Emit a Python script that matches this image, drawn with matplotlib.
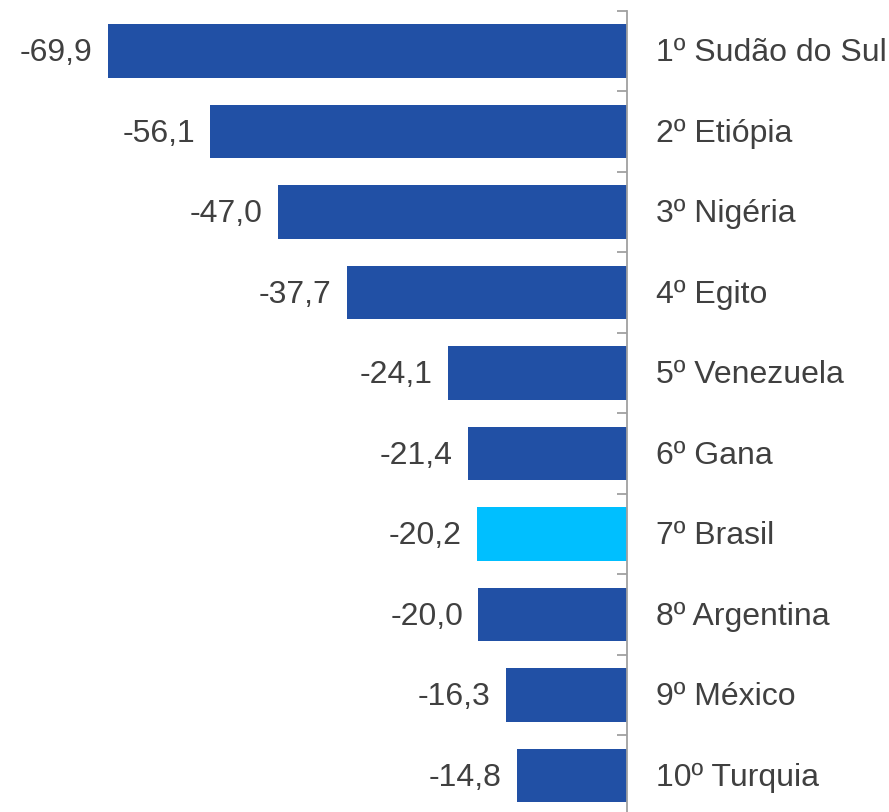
import matplotlib.pyplot as plt
import numpy as np

plt.rcParams['font.family'] = ['Liberation Sans', 'DejaVu Sans']

countries = ['1º Sudão do Sul', '2º Etiópia', '3º Nigéria', '4º Egito', '5º Venezuela',
             '6º Gana', '7º Brasil', '8º Argentina', '9º México', '10º Turquia']
values = [-69.9, -56.1, -47.0, -37.7, -24.1, -21.4, -20.2, -20.0, -16.3, -14.8]
highlight = '7º Brasil'

dark_blue = '#2150A5'
light_blue = '#00BFFF'
text_col = '#404040'

# tiny extra so the canvas rounds to a full 812 px
fig = plt.figure(figsize=(8.89, 8.1201), dpi=100)
ax = fig.add_axes([0, 0, 1, 1])

y = np.arange(len(countries))
colors = [light_blue if c == highlight else dark_blue for c in countries]
ax.barh(y, values, height=0.665, color=colors)

for yi, v, name in zip(y, values, countries):
    ax.annotate(f'{v:.1f}'.replace('.', ','), xy=(v, yi), xytext=(-11, -1.5),
                textcoords='offset points', ha='right', va='center',
                fontsize=23, color=text_col)
    ax.annotate(name, xy=(0, yi), xytext=(21, -1.5), textcoords='offset points',
                ha='left', va='center', fontsize=23, color=text_col)

ax.set_xlim(-84.44, 35.29)
ax.set_ylim(9.453, -0.6335)

for s in ['top', 'right', 'bottom']:
    ax.spines[s].set_visible(False)
ax.spines['left'].set_position(('data', 0))
ax.spines['left'].set_color('#A0A0A0')
ax.spines['left'].set_linewidth(1.3)
ax.spines['left'].set_bounds(-0.5, 10)
# separators between categories
ax.set_yticks(np.arange(-0.5, 9, 1.0))
ax.set_yticklabels([])
ax.tick_params(axis='y', direction='out', length=7, width=1.3, color='#A0A0A0')
ax.set_xticks([])

fig.savefig('out.png', dpi=100)
